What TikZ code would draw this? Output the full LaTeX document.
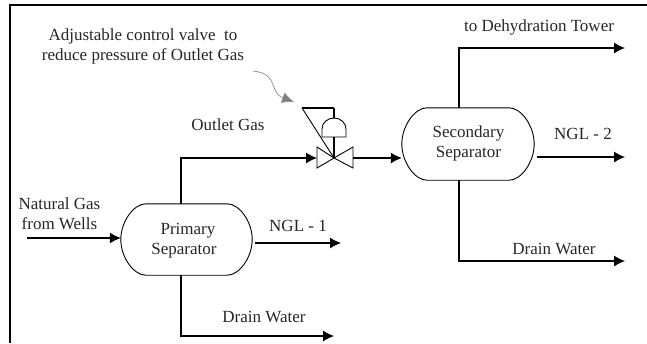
\documentclass[tikz,border=0pt]{standalone}
\usepackage{fontspec}
\usepackage{xcolor}
\setmainfont{Liberation Serif}
\usetikzlibrary{arrows.meta}
\tikzset{
sep/.style={minimum width=131pt,minimum height=71pt,inner sep=0pt,align=center,font=\fontsize{17}{20}\selectfont,text=black!85},
lbl/.style={inner sep=0pt,align=center,font=\fontsize{17}{20}\selectfont,text=black!85},
flow/.style={line width=1.1pt,-{Latex[length=11pt,width=11pt]}},
pipe/.style={line width=1.1pt},
thin/.style={line width=0.9pt}
}
\newcommand{\vessel}[1]{\draw [line width=0.9pt](#1.west)..controls +(0,-18) and +(-12,0)..([xshift=25pt]#1.north west)--([xshift=-25pt]#1.north east)..controls +(12,0) and +(0,-18)..(#1.east)..controls +(0,18) and +(12,0)..([xshift=-25pt]#1.south east)--([xshift=25pt]#1.south west)..controls +(-12,0) and +(0,18)..cycle;}
\begin{document}
\begin{tikzpicture}[x=1pt,y=-1pt]
\useasboundingbox (0,0) rectangle (647,343);
\coordinate (tl) at (10,5);
\coordinate (tr) at (647,5);
\coordinate (bl) at (10,343);
\draw [line width=1.3pt](bl)--(tl)--(tr);
\node [sep] (primary) at (186.5,239.5) {};
\node [sep,minimum width=132pt,minimum height=72pt] (secondary) at (468,144) {};
\vessel{primary}
\vessel{secondary}
\node [lbl] (primarytxt) at (184,241) {\hspace*{8pt}Primary\\Separator};
\node [lbl] (secondarytxt) at (468.5,143) {Secondary\\Separator};
\coordinate (valve) at (334,158);
\coordinate (vl1) at (317,147);
\coordinate (vl2) at (317,168);
\coordinate (vr1) at (353,147);
\coordinate (vr2) at (353,168);
\coordinate (vr) at (353,158);
\coordinate (vl) at (317,158);
\coordinate (stem) at (334,137);
\coordinate (stemtop) at (334,108);
\coordinate (bar) at (302,108);
\coordinate (dome) at (334,118);
\draw [thin](valve)--(vl1)--(vl2)--cycle;
\draw [thin](valve)--(vr1)--(vr2)--cycle;
\draw [pipe](valve)--(stem);
\draw [pipe](stemtop)--(bar);
\draw [thin](bar)--(valve);
\draw [pipe](stemtop)--(dome);
\draw [thin](322,137)--(346,137)--(346,129) arc[start angle=0,end angle=-180,x radius=12,y radius=11]--cycle;
\coordinate (in) at (27,238);
\coordinate (ngla) at (255,243);
\coordinate (nglaend) at (341,243);
\coordinate (draina) at (334,336);
\coordinate (nglb) at (537,157);
\coordinate (nglbend) at (625,157);
\coordinate (drainb) at (625,261);
\coordinate (tower) at (625,48);
\coordinate (hintstart) at (253,71);
\coordinate (hintend) at (294,102);
\draw [flow](in)--(primary.west |- in);
\draw [flow](ngla)--(nglaend);
\draw [flow]([xshift=-5.5pt]primary.south)|-(draina);
\draw [flow]([xshift=-5.5pt]primary.north)|-(vl);
\draw [flow](vr)--(secondary.west |- vr);
\draw [flow](nglb)--(nglbend);
\draw [flow]([xshift=-9pt]secondary.south)|-(drainb);
\draw [flow]([xshift=-9pt]secondary.north)|-(tower);
\draw [draw=black!45,line width=0.7pt,-{Latex[length=12pt,width=11pt,fill=black!50]}](hintstart)..controls (280,74) and (268,92)..(hintend);
\node [lbl] (hinta) at (143,36) {Adjustable control valve\ \ to};
\node [lbl] (hintb) at (143,56) {reduce pressure of Outlet Gas};
\node [lbl] (outlet) at (228,125) {Outlet Gas};
\node [lbl] (wells) at (59.5,214) {Natural Gas\\from Wells};
\node [lbl] (nglatxt) at (298,226) {NGL - 1};
\node [lbl] (drainatxt) at (264,317) {Drain Water};
\node [lbl] (towertxt) at (539,27) {to Dehydration Tower};
\node [lbl] (nglbtxt) at (583,134) {NGL - 2};
\node [lbl] (drainbtxt) at (554,249) {Drain Water};
\end{tikzpicture}
\end{document}
